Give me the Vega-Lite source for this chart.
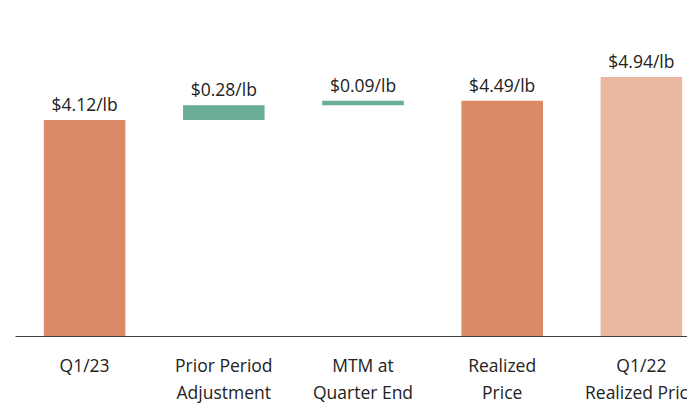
{
  "$schema": "https://vega.github.io/schema/vega-lite/v6.json",
  "width": 696,
  "height": 336,
  "autosize": {"type": "none"},
  "padding": {"left": 15, "top": 0, "right": 0, "bottom": 70},
  "background": "white",
  "config": {"view": {"stroke": null}, "font": "Open Sans"},
  "data": {
    "values": [
      {"cat": "Q1/23", "start": 0, "end": 4.12, "kind": "current", "label": "$4.12/lb"},
      {"cat": "Prior Period|Adjustment", "start": 4.12, "end": 4.40, "kind": "change", "label": "$0.28/lb"},
      {"cat": "MTM at|Quarter End", "start": 4.40, "end": 4.49, "kind": "change", "label": "$0.09/lb"},
      {"cat": "Realized|Price", "start": 0, "end": 4.49, "kind": "current", "label": "$4.49/lb"},
      {"cat": "Q1/22|Realized Price", "start": 0, "end": 4.94, "kind": "prior", "label": "$4.94/lb"}
    ]
  },
  "encoding": {
    "x": {
      "field": "cat",
      "type": "nominal",
      "sort": null,
      "scale": {"paddingInner": 0.414, "paddingOuter": 0.207},
      "axis": {
        "title": null,
        "labelAngle": 0,
        "ticks": false,
        "domainColor": "#404040",
        "domainWidth": 1,
        "labelFont": "Open Sans",
        "labelFontSize": 17.5,
        "labelColor": "#222222",
        "labelPadding": 21,
        "labelLineHeight": 27,
        "labelOverlap": false,
        "labelExpr": "split(datum.label, '|')"
      }
    }
  },
  "layer": [
    {
      "mark": {"type": "bar"},
      "encoding": {
        "y": {"field": "start", "type": "quantitative", "scale": {"domain": [0, 6.41], "nice": false, "zero": true}, "axis": null},
        "y2": {"field": "end"},
        "color": {
          "field": "kind",
          "type": "nominal",
          "scale": {"domain": ["current", "change", "prior"], "range": ["#DB8A68", "#6AAE9A", "#E8B8A1"]},
          "legend": null
        }
      }
    },
    {
      "mark": {"type": "text", "baseline": "alphabetic", "dy": -9, "fontSize": 17.5, "color": "#222222", "font": "Open Sans"},
      "encoding": {
        "y": {"field": "end", "type": "quantitative"},
        "text": {"field": "label"}
      }
    }
  ]
}
